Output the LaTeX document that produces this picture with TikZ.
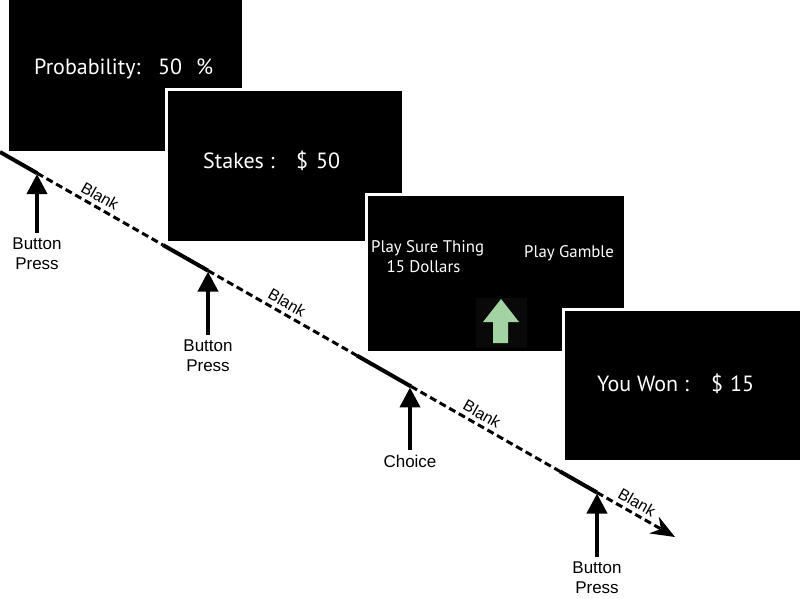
\documentclass[tikz,border=0pt]{standalone}
\usepackage{fontspec}
\setmainfont{Liberation Sans}
\newfontfamily\screenfont{PT Sans}
\usetikzlibrary{arrows.meta}
\definecolor{arrowgreen}{HTML}{A3D3A3}
\definecolor{nearblack}{HTML}{090909}
\begin{document}
\begin{tikzpicture}[x=1pt,y=-1pt,
  screen/.style={fill=black,draw=white,line width=3pt},
  scrtext/.style={text=white,font=\screenfont\fontsize{22}{26}\selectfont,anchor=base west,inner sep=0pt},
  scrsmall/.style={text=white,font=\screenfont\fontsize{16.8}{20}\selectfont,anchor=base west,inner sep=0pt},
  solidseg/.style={line width=4pt,line cap=butt},
  dashseg/.style={line width=3pt,dash pattern=on 7pt off 4pt},
  evarrow/.style={line width=4pt,shorten <=5pt,shorten >=1pt,-{Triangle[length=20pt,width=20pt]}},
  evlabel/.style={anchor=north,inner sep=0pt,align=center,font=\fontsize{17}{20}\selectfont},
  blanklabel/.style={inner sep=0pt,rotate=-29.7,font=\fontsize{16}{19}\selectfont}]
\path[use as bounding box] (0,0) rectangle (800,598);

% screens
\path[screen] (7,-5) rectangle (243,152);
\path[screen] (166,89) rectangle (403,242);
\path[screen] (366,194) rectangle (625,352);
\path[screen] (563,309) rectangle (805,461);

% screen texts
\node[scrtext] (t1a) at (34,74) {Probability:};
\node[scrtext] (t1b) at (158,74) {50};
\node[scrtext] (t1c) at (196,74) {\%};
\node[scrtext] (t2a) at (203,168) {Stakes :};
\node[scrtext] (t2b) at (296,168) {\$};
\node[scrtext] (t2c) at (316,168) {50};
\node[scrsmall] (t3a) at (371,252) {Play Sure Thing};
\node[scrsmall,anchor=base] (t3b) at (423.5,272) {15 Dollars};
\node[scrsmall] (t3c) at (524,257) {Play Gamble};
\node[scrtext] (t4a) at (597,391) {You Won :};
\node[scrtext] (t4b) at (711,391) {\$};
\node[scrtext] (t4c) at (730,391) {15};

% green choice arrow
\fill[nearblack] (476,298) rectangle (527,348);
\fill[arrowgreen] (501,299) -- (519,322) -- (508,322) -- (508,343) -- (493,343) -- (493,322) -- (483,322) -- cycle;

% timeline
\coordinate (start) at (0,152);
\coordinate (e1) at (37,173.1);
\coordinate (d1) at (163,245);
\coordinate (e2) at (208,270.6);
\coordinate (d2) at (357,355.6);
\coordinate (e3) at (411,386.4);
\coordinate (d3) at (560,471.4);
\coordinate (e4) at (597,492.5);
\coordinate (end) at (675,537);
\draw[solidseg] (start) -- (e1);
\draw[dashseg] (e1) -- (d1);
\draw[solidseg] (d1) -- (e2);
\draw[dashseg] (e2) -- (d2);
\draw[solidseg] (d2) -- (e3);
\draw[dashseg] (e3) -- (d3);
\draw[solidseg] (d3) -- (e4);
\draw[dashseg,-{Stealth[length=24pt,width=19pt]}] (e4) -- (end);

% blank labels
\node[blanklabel] (bl1) at (100,196) {Blank};
\node[blanklabel] (bl2) at (287,302.7) {Blank};
\node[blanklabel] (bl3) at (482,413.9) {Blank};
\node[blanklabel] (bl4) at (637,502.3) {Blank};

% event labels and arrows
\node[evlabel] (lb1) at (37,238) {Button\\Press};
\node[evlabel] (lb2) at (208,340) {Button\\Press};
\node[evlabel] (lb3) at (410,455) {Choice};
\node[evlabel] (lb4) at (597,562) {Button\\Press};
\draw[evarrow] (lb1.north) -- (e1);
\draw[evarrow] (lb2.north) -- (e2);
\draw[evarrow] (lb3.north) -- (lb3.north |- e3);
\draw[evarrow] (lb4.north) -- (e4);
\end{tikzpicture}
\end{document}
